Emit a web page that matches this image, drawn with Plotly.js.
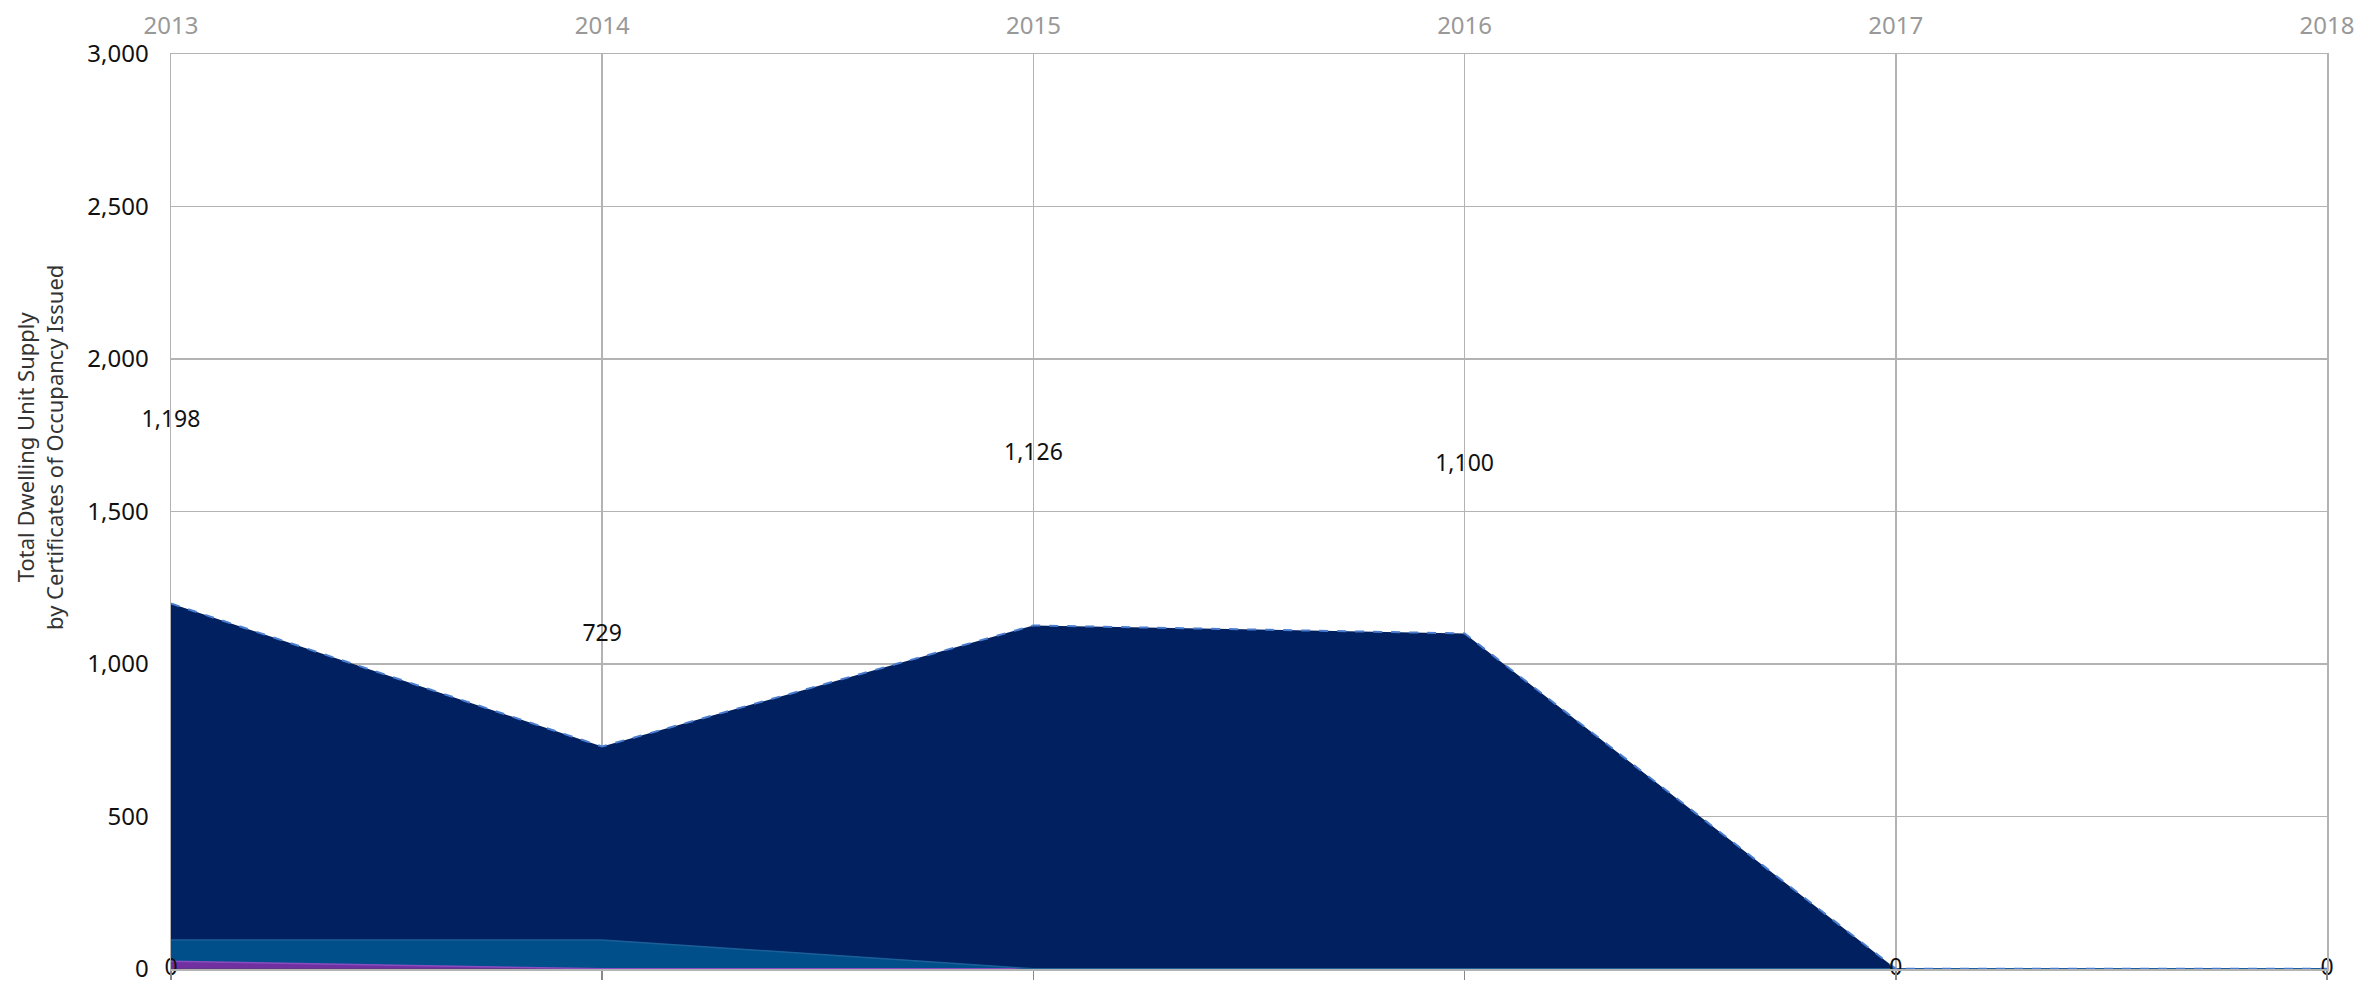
<!DOCTYPE html>
<html>
<head>
<meta charset="utf-8">
<script src="https://cdn.plot.ly/plotly-3.0.1.min.js"></script>
<style>html,body{margin:0;padding:0;background:#fff;}#chart{width:2374px;height:984px;}</style>
</head>
<body>
<div id="chart"></div>
<script>
var years = [2013, 2014, 2015, 2016, 2017, 2018];
var purpleSeries = [25, 0, 0, 0, 0, 0];
var blueSeries = [70, 95, 0, 0, 0, 0];
var navySeries = [1103, 634, 1126, 1100, 0, 0];
var labelYears = [2013, 2014, 2015, 2016, 2017, 2018, 2013];
var labelValues = [1198, 729, 1126, 1100, 0, 0, 0];
var yTicks = [0, 500, 1000, 1500, 2000, 2500, 3000];
var yTickText = ['0', '500', '1,000', '1,500', '2,000', '2,500', '3,000'];

var fontFam = '"Noto Sans", "Open Sans", sans-serif';

var traces = [
  {x: years, y: purpleSeries, type: 'scatter', mode: 'lines', stackgroup: 'one',
   fillcolor: '#7030A0', line: {color: '#8a4cc0', width: 1.5}, hoverinfo: 'skip'},
  {x: years, y: blueSeries, type: 'scatter', mode: 'lines', stackgroup: 'one',
   fillcolor: '#004F8B', line: {color: '#1a5f98', width: 1.5}, hoverinfo: 'skip'},
  {x: years, y: navySeries, type: 'scatter', mode: 'lines', stackgroup: 'one',
   fillcolor: '#00205F', line: {color: '#4a7dd0', width: 2, dash: 'dash'}, hoverinfo: 'skip'},
  {x: labelYears, y: labelValues.map(function(v){return v * 1.5;}), type: 'scatter', mode: 'text',
   text: labelValues.map(function(v){return v.toLocaleString('en-US');}),
   textposition: 'middle center', textfont: {family: fontFam, size: 23, color: '#111'},
   hoverinfo: 'skip', cliponaxis: false},
  {x: years, y: [0,0,0,0,0,0], xaxis: 'x2', type: 'scatter', mode: 'markers',
   marker: {opacity: 0}, hoverinfo: 'skip'}
];

var layout = {
  width: 2374, height: 984,
  margin: {l: 171, r: 47, t: 54, b: 15},
  paper_bgcolor: '#ffffff', plot_bgcolor: '#ffffff',
  showlegend: false,
  xaxis: {
    side: 'bottom', range: [2013, 2018], tickvals: years,
    showticklabels: false, ticks: 'outside', ticklen: 9, tickcolor: '#888888', tickwidth: 1.5,
    showgrid: true, gridcolor: '#b3b3b3', gridwidth: 1.5,
    showline: true, linecolor: '#b3b3b3', linewidth: 1.5, mirror: true,
    zeroline: false, fixedrange: true
  },
  xaxis2: {
    overlaying: 'x', side: 'top', range: [2013, 2018], tickvals: years, ticktext: years.map(String),
    tickfont: {family: fontFam, size: 24, color: '#999999'},
    showgrid: false, zeroline: false, showline: false, ticks: '', ticklabelstandoff: 14,
    fixedrange: true
  },
  yaxis: {
    range: [-0.5, 3000], tickvals: yTicks, ticktext: yTickText,
    tickfont: {family: fontFam, size: 24, color: '#111111'},
    showgrid: true, gridcolor: '#b3b3b3', gridwidth: 1.5,
    showline: true, linecolor: '#b3b3b3', linewidth: 1.5, mirror: true,
    zeroline: true, zerolinecolor: '#404040', zerolinewidth: 2,
    ticks: '', ticklabelstandoff: 16, ticklabeloverflow: 'allow', fixedrange: true
  },
  annotations: [{
    text: 'Total Dwelling Unit Supply<br>by Certificates of Occupancy Issued',
    xref: 'paper', yref: 'paper', x: -0.061, y: 0.57, xanchor: 'center', yanchor: 'middle',
    textangle: -90, showarrow: false,
    font: {family: fontFam, size: 22, color: '#333333'}
  }]
};

Plotly.newPlot('chart', traces, layout, {displayModeBar: false, staticPlot: true});
</script>
</body>
</html>
